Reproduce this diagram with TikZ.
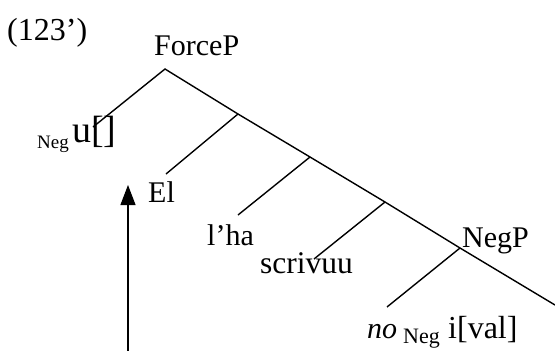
\documentclass[tikz,border=0pt]{standalone}
\usepackage{fontspec}
\setmainfont{Liberation Serif}
\usetikzlibrary{arrows.meta}
\begin{document}
\begin{tikzpicture}[x=1pt,y=-1pt,
  branch/.style={line width=1.4pt},
  lbl/.style={inner sep=0pt,anchor=base west,font=\fontsize{30}{36}\selectfont},
  sub/.style={inner sep=0pt,anchor=base west,font=\fontsize{21}{24}\selectfont},
  mover/.style={line width=1.1pt,-{Triangle[width=15pt,length=20pt]}}]
\useasboundingbox (0,0) rectangle (555,351);
% tree points
\coordinate (top) at (165,69);
\coordinate (n1) at (238,114);
\coordinate (n2) at (310,157);
\coordinate (n3) at (385,202);
\coordinate (negp) at (460,248);
\coordinate (spine) at (555,305);
\coordinate (l0) at (93,127);
\coordinate (l1) at (166,174);
\coordinate (l2) at (238,215);
\coordinate (l3) at (314,259);
\coordinate (l4) at (387,307);
\coordinate (arrowfoot) at (128,351);
\coordinate (arrowtip) at (128,185);
% branches
\draw[branch] (l0) -- (top) -- (n1) -- (n2) -- (n3) -- (negp) -- (spine);
\draw[branch] (n1) -- (l1);
\draw[branch] (n2) -- (l2);
\draw[branch] (n3) -- (l3);
\draw[branch] (negp) -- (l4);
% labels
\node[lbl,font=\fontsize{32}{36}\selectfont] (ex) at (7,40) {(123’)};
\node[lbl] (forcep) at (154,55) {ForceP};
\node[sub,font=\fontsize{19}{24}\selectfont] (neg1) at (37,148) {Neg};
\node[lbl,font=\fontsize{38}{44}\selectfont] (u) at (72,142) {u[]};
\node[lbl] (el) at (148,202) {El};
\node[lbl] (lha) at (207,245) {l’ha};
\node[lbl,font=\fontsize{31.5}{36}\selectfont] (scr) at (260,273) {scrivuu};
\node[lbl] (negplbl) at (462,247) {NegP};
\node[lbl] (no) at (367,338) {\itshape no};
\node[sub,font=\fontsize{22}{26}\selectfont] (neg2) at (403,343) {Neg};
\node[lbl,font=\fontsize{32}{36}\selectfont] (ival) at (448,338) {i[val]};
% movement arrow
\draw[mover] (arrowfoot) -- (arrowtip);
\end{tikzpicture}
\end{document}
